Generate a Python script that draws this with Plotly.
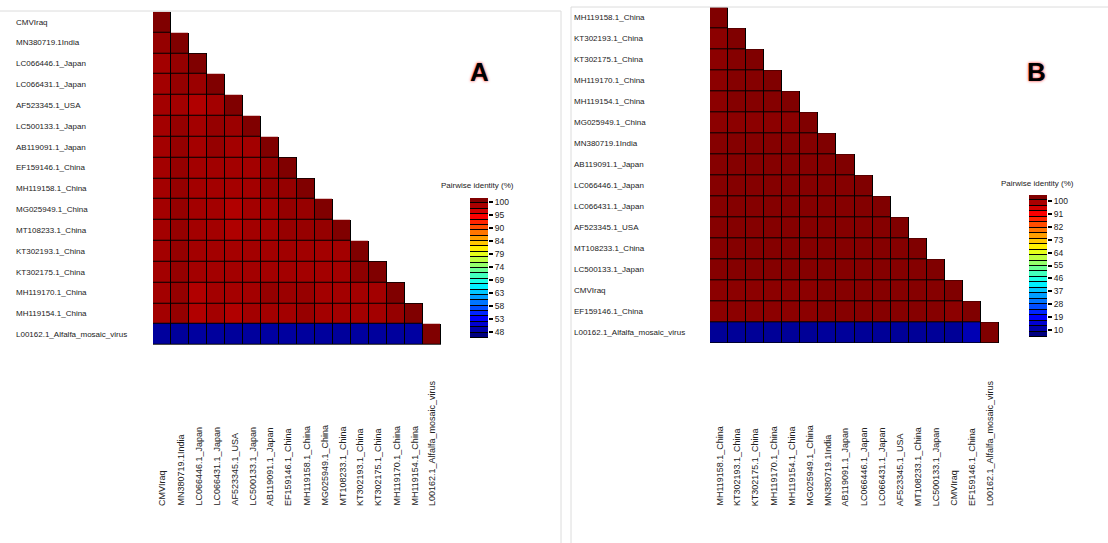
import numpy as np
import plotly.graph_objects as go

W, H = 1108, 543

# ---------------- data ----------------
names_A = ["CMVIraq", "MN380719.1India", "LC066446.1_Japan", "LC066431.1_Japan",
           "AF523345.1_USA", "LC500133.1_Japan", "AB119091.1_Japan", "EF159146.1_China",
           "MH119158.1_China", "MG025949.1_China", "MT108233.1_China", "KT302193.1_China",
           "KT302175.1_China", "MH119170.1_China", "MH119154.1_China",
           "L00162.1_Alfalfa_mosaic_virus"]

ident_A = [
    [100],
    [98.9, 100],
    [98.2, 98.9, 100],
    [98.2, 98.9, 98.6, 100],
    [98.2, 98.2, 97.5, 98.2, 100],
    [98.2, 98.9, 98.2, 98.9, 98.6, 100],
    [98.2, 98.9, 98.1, 98.9, 98.2, 98.2, 100],
    [98.2, 98.9, 98.2, 98.3, 98.2, 98.2, 98.9, 100],
    [98.2, 98.9, 98.2, 98.2, 98.1, 98.2, 98.9, 98.9, 100],
    [98.2, 98.9, 98.2, 98.2, 97.5, 98.2, 98.2, 98.9, 98.8, 100],
    [98.2, 98.9, 98.2, 98.2, 97.6, 98.2, 98.2, 98.8, 98.8, 98.9, 100],
    [98.2, 98.9, 98.2, 98.2, 98.1, 98.2, 98.2, 98.3, 98.3, 98.2, 98.2, 100],
    [98.2, 98.9, 98.2, 98.2, 98.2, 98.2, 98.2, 98.2, 98.2, 98.2, 98.2, 99.3, 100],
    [98.2, 98.9, 97.5, 98.2, 98.1, 98.2, 98.9, 98.6, 98.8, 98.2, 98.2, 98.2, 98.2, 100],
    [98.2, 98.9, 97.5, 98.2, 97.5, 98.2, 98.2, 98.2, 98.8, 98.2, 98.2, 98.2, 98.2, 98.9, 100],
    [49.5, 49.4, 49.6, 49.5, 49.4, 49.5, 49.7, 49.6, 49.5, 49.5, 49.4, 49.6, 49.5, 49.5, 49.7, 100],
]

names_B = ["MH119158.1_China", "KT302193.1_China", "KT302175.1_China", "MH119170.1_China",
           "MH119154.1_China", "MG025949.1_China", "MN380719.1India", "AB119091.1_Japan",
           "LC066446.1_Japan", "LC066431.1_Japan", "AF523345.1_USA", "MT108233.1_China",
           "LC500133.1_Japan", "CMVIraq", "EF159146.1_China",
           "L00162.1_Alfalfa_mosaic_virus"]

ident_B = [
    [100],
    [98.9, 100],
    [98.9, 99.6, 100],
    [98.9, 99.6, 99.6, 100],
    [98.9, 99.6, 99.6, 99.6, 100],
    [98.9, 98.9, 98.9, 98.9, 98.9, 100],
    [99.5, 99.6, 99.6, 99.6, 99.6, 99.6, 100],
    [99.5, 99.6, 99.6, 99.6, 99.6, 99.6, 99.6, 100],
    [99.5, 99.6, 99.6, 99.6, 99.6, 99.6, 99.6, 99.6, 100],
    [99.5, 99.6, 99.6, 99.6, 99.6, 99.6, 99.6, 99.6, 99.7, 100],
    [99.5, 99.6, 99.6, 99.6, 99.6, 99.6, 99.6, 99.6, 99.6, 99.6, 100],
    [99.5, 99.6, 99.6, 99.6, 99.6, 99.6, 99.6, 99.6, 99.6, 99.6, 99.6, 100],
    [99.5, 99.6, 99.6, 99.6, 99.6, 99.6, 99.6, 99.6, 99.6, 99.6, 99.6, 99.6, 100],
    [98.9, 98.9, 98.9, 98.9, 98.9, 98.9, 99.5, 99.5, 99.5, 99.5, 99.5, 99.5, 99.5, 100],
    [98.9, 98.9, 98.9, 98.9, 98.9, 98.9, 99.5, 99.5, 99.5, 99.5, 99.5, 99.5, 99.5, 98.9, 100],
    [12.0, 12.1, 12.0, 12.0, 12.1, 12.0, 12.4, 12.3, 12.0, 12.0, 12.1, 12.0, 12.1, 12.0, 14.6, 100],
]

cbar_A_ticks = [100, 94.8, 89.6, 84.4, 79.2, 74, 68.8, 63.6, 58.4, 53.2, 48]
cbar_A_text = ["100", "95", "90", "84", "79", "74", "69", "63", "58", "53", "48"]
cbar_B_ticks = [100, 91, 82, 73, 64, 55, 46, 37, 28, 19, 10]
cbar_B_text = ["100", "91", "82", "73", "64", "55", "46", "37", "28", "19", "10"]

# ---------------- styling ----------------
FONT = "Liberation Sans, Arial, sans-serif"
TXT = "#222222"
jet = [[0, "rgb(0,0,128)"], [0.125, "rgb(0,0,255)"], [0.375, "rgb(0,255,255)"],
       [0.625, "rgb(255,255,0)"], [0.875, "rgb(255,0,0)"], [1, "rgb(128,0,0)"]]
N_BANDS = 26


def px_x(x):
    return x / W


def px_y(y):
    return 1 - y / H


def tri(rows):
    n = len(rows)
    return [[rows[i][j] if j <= i else None for j in range(n)] for i in range(n)]


def mask(rows):
    n = len(rows)
    return [[1 if j <= i else None for j in range(n)] for i in range(n)]


fig = go.Figure()

panels = [
    dict(names=names_A, rows=ident_A, zmin=48, zmax=100, xa="x", ya="y"),
    dict(names=names_B, rows=ident_B, zmin=10, zmax=100, xa="x2", ya="y2"),
]
for p in panels:
    n = len(p["names"])
    idx = list(range(n))
    fig.add_trace(go.Heatmap(z=mask(p["rows"]), x=idx, y=idx, zmin=0, zmax=1,
                             colorscale=[[0, "black"], [1, "black"]], showscale=False,
                             hoverinfo="skip", xaxis=p["xa"], yaxis=p["ya"]))
    fig.add_trace(go.Heatmap(z=tri(p["rows"]), x=idx, y=idx, zmin=p["zmin"], zmax=p["zmax"],
                             colorscale=jet, showscale=False, xgap=1, ygap=1,
                             customdata=[[p["names"][i] + " / " + p["names"][j] for j in idx] for i in idx],
                             hovertemplate="%{customdata}: %{z}%<extra></extra>",
                             xaxis=p["xa"], yaxis=p["ya"]))

# discrete colour bars (drawn as banded heatmaps)
cbars = [
    dict(lo=45.6, hi=101.6, xa="x3", ya="y3", tv=cbar_A_ticks, tt=cbar_A_text,
         xd=[470, 488], yd=[198, 338]),
    dict(lo=5.3, hi=104.0, xa="x4", ya="y4", tv=cbar_B_ticks, tt=cbar_B_text,
         xd=[1029, 1047], yd=[195, 337]),
]
for c in cbars:
    edges = np.linspace(c["lo"], c["hi"], N_BANDS + 1)
    centers = (edges[:-1] + edges[1:]) / 2
    fig.add_trace(go.Heatmap(z=[[i] for i in range(N_BANDS)], x=[0], y=list(centers),
                             zmin=0, zmax=N_BANDS - 1, colorscale=jet, showscale=False,
                             ygap=1, hoverinfo="skip", xaxis=c["xa"], yaxis=c["ya"]))

layout = dict(
    width=W, height=H, margin=dict(l=0, r=0, t=0, b=0),
    paper_bgcolor="white", plot_bgcolor="white",
    font=dict(family=FONT, size=8, color=TXT),
    showlegend=False,
)

hid = dict(visible=False, showgrid=False, zeroline=False, fixedrange=True)
layout["xaxis"] = dict(hid, domain=[px_x(153), px_x(441)], range=[-0.5, 15.5], anchor="y")
layout["yaxis"] = dict(hid, domain=[px_y(345), px_y(11.7)], range=[15.5, -0.5], anchor="x")
layout["xaxis2"] = dict(hid, domain=[px_x(710), px_x(999)], range=[-0.5, 15.5], anchor="y2")
layout["yaxis2"] = dict(hid, domain=[px_y(343), px_y(7.3)], range=[15.5, -0.5], anchor="x2")
for k, c in zip(["3", "4"], cbars):
    layout["xaxis" + k] = dict(hid, domain=[px_x(c["xd"][0]), px_x(c["xd"][1])],
                               range=[-0.5, 0.5], anchor="y" + k)
    layout["yaxis" + k] = dict(domain=[px_y(c["yd"][1]), px_y(c["yd"][0])],
                               range=[c["lo"], c["hi"]], anchor="x" + k, side="right",
                               tickmode="array", tickvals=c["tv"], ticktext=c["tt"],
                               ticks="outside", ticklen=4, tickwidth=1.5, tickcolor="black",
                               showgrid=False, zeroline=False, showline=False,
                               tickfont=dict(size=8.5, color=TXT), fixedrange=True)

shapes = []
for k, c in zip(["3", "4"], cbars):
    shapes.append(dict(type="rect", xref="x" + k, yref="y" + k, x0=-0.5, x1=0.5,
                       y0=c["lo"], y1=c["hi"], fillcolor="black",
                       line=dict(width=1, color="black"), layer="below"))
frame = "#dcdcdc"
shapes += [
    dict(type="line", xref="paper", yref="paper", x0=0, x1=px_x(561), y0=px_y(11), y1=px_y(11),
         line=dict(color=frame, width=1)),
    dict(type="line", xref="paper", yref="paper", x0=px_x(561), x1=px_x(561), y0=0, y1=px_y(11),
         line=dict(color=frame, width=1)),
    dict(type="line", xref="paper", yref="paper", x0=px_x(571), x1=1, y0=px_y(7), y1=px_y(7),
         line=dict(color=frame, width=1)),
    dict(type="line", xref="paper", yref="paper", x0=px_x(571), x1=px_x(571), y0=0, y1=px_y(7),
         line=dict(color=frame, width=1)),
]
layout["shapes"] = shapes

ann = []
for p, lx in zip(panels, [14, 572]):
    for i, nm in enumerate(p["names"]):
        ann.append(dict(text=nm, xref="paper", x=px_x(lx), xanchor="left",
                        yref=p["ya"], y=i, yanchor="middle", showarrow=False,
                        font=dict(size=8, color=TXT)))
        ann.append(dict(text=nm, xref=p["xa"], x=i, xanchor="center",
                        yref="paper", y=px_y(508), yanchor="bottom", textangle=-90,
                        showarrow=False, font=dict(size=9, color=TXT)))
for tx, ty in [(477, 185), (1037, 183)]:
    ann.append(dict(text="Pairwise identity (%)", xref="paper", yref="paper",
                    x=px_x(tx), y=px_y(ty), xanchor="center", yanchor="middle",
                    showarrow=False, font=dict(size=8, color=TXT)))
for letter, lx, ly in [("A", 479, 72.5), ("B", 1036, 72)]:
    ann.append(dict(text="<b>" + letter + "</b>", xref="paper", yref="paper",
                    x=px_x(lx), y=px_y(ly), xanchor="center", yanchor="middle",
                    showarrow=False,
                    font=dict(size=26, color="black", family=FONT,
                              shadow="0px 0px 3px #ff2020")))
layout["annotations"] = ann

fig.update_layout(**layout)
fig.write_html("out.html", config={"displayModeBar": False},
               post_script="document.body.style.margin='0px';")
